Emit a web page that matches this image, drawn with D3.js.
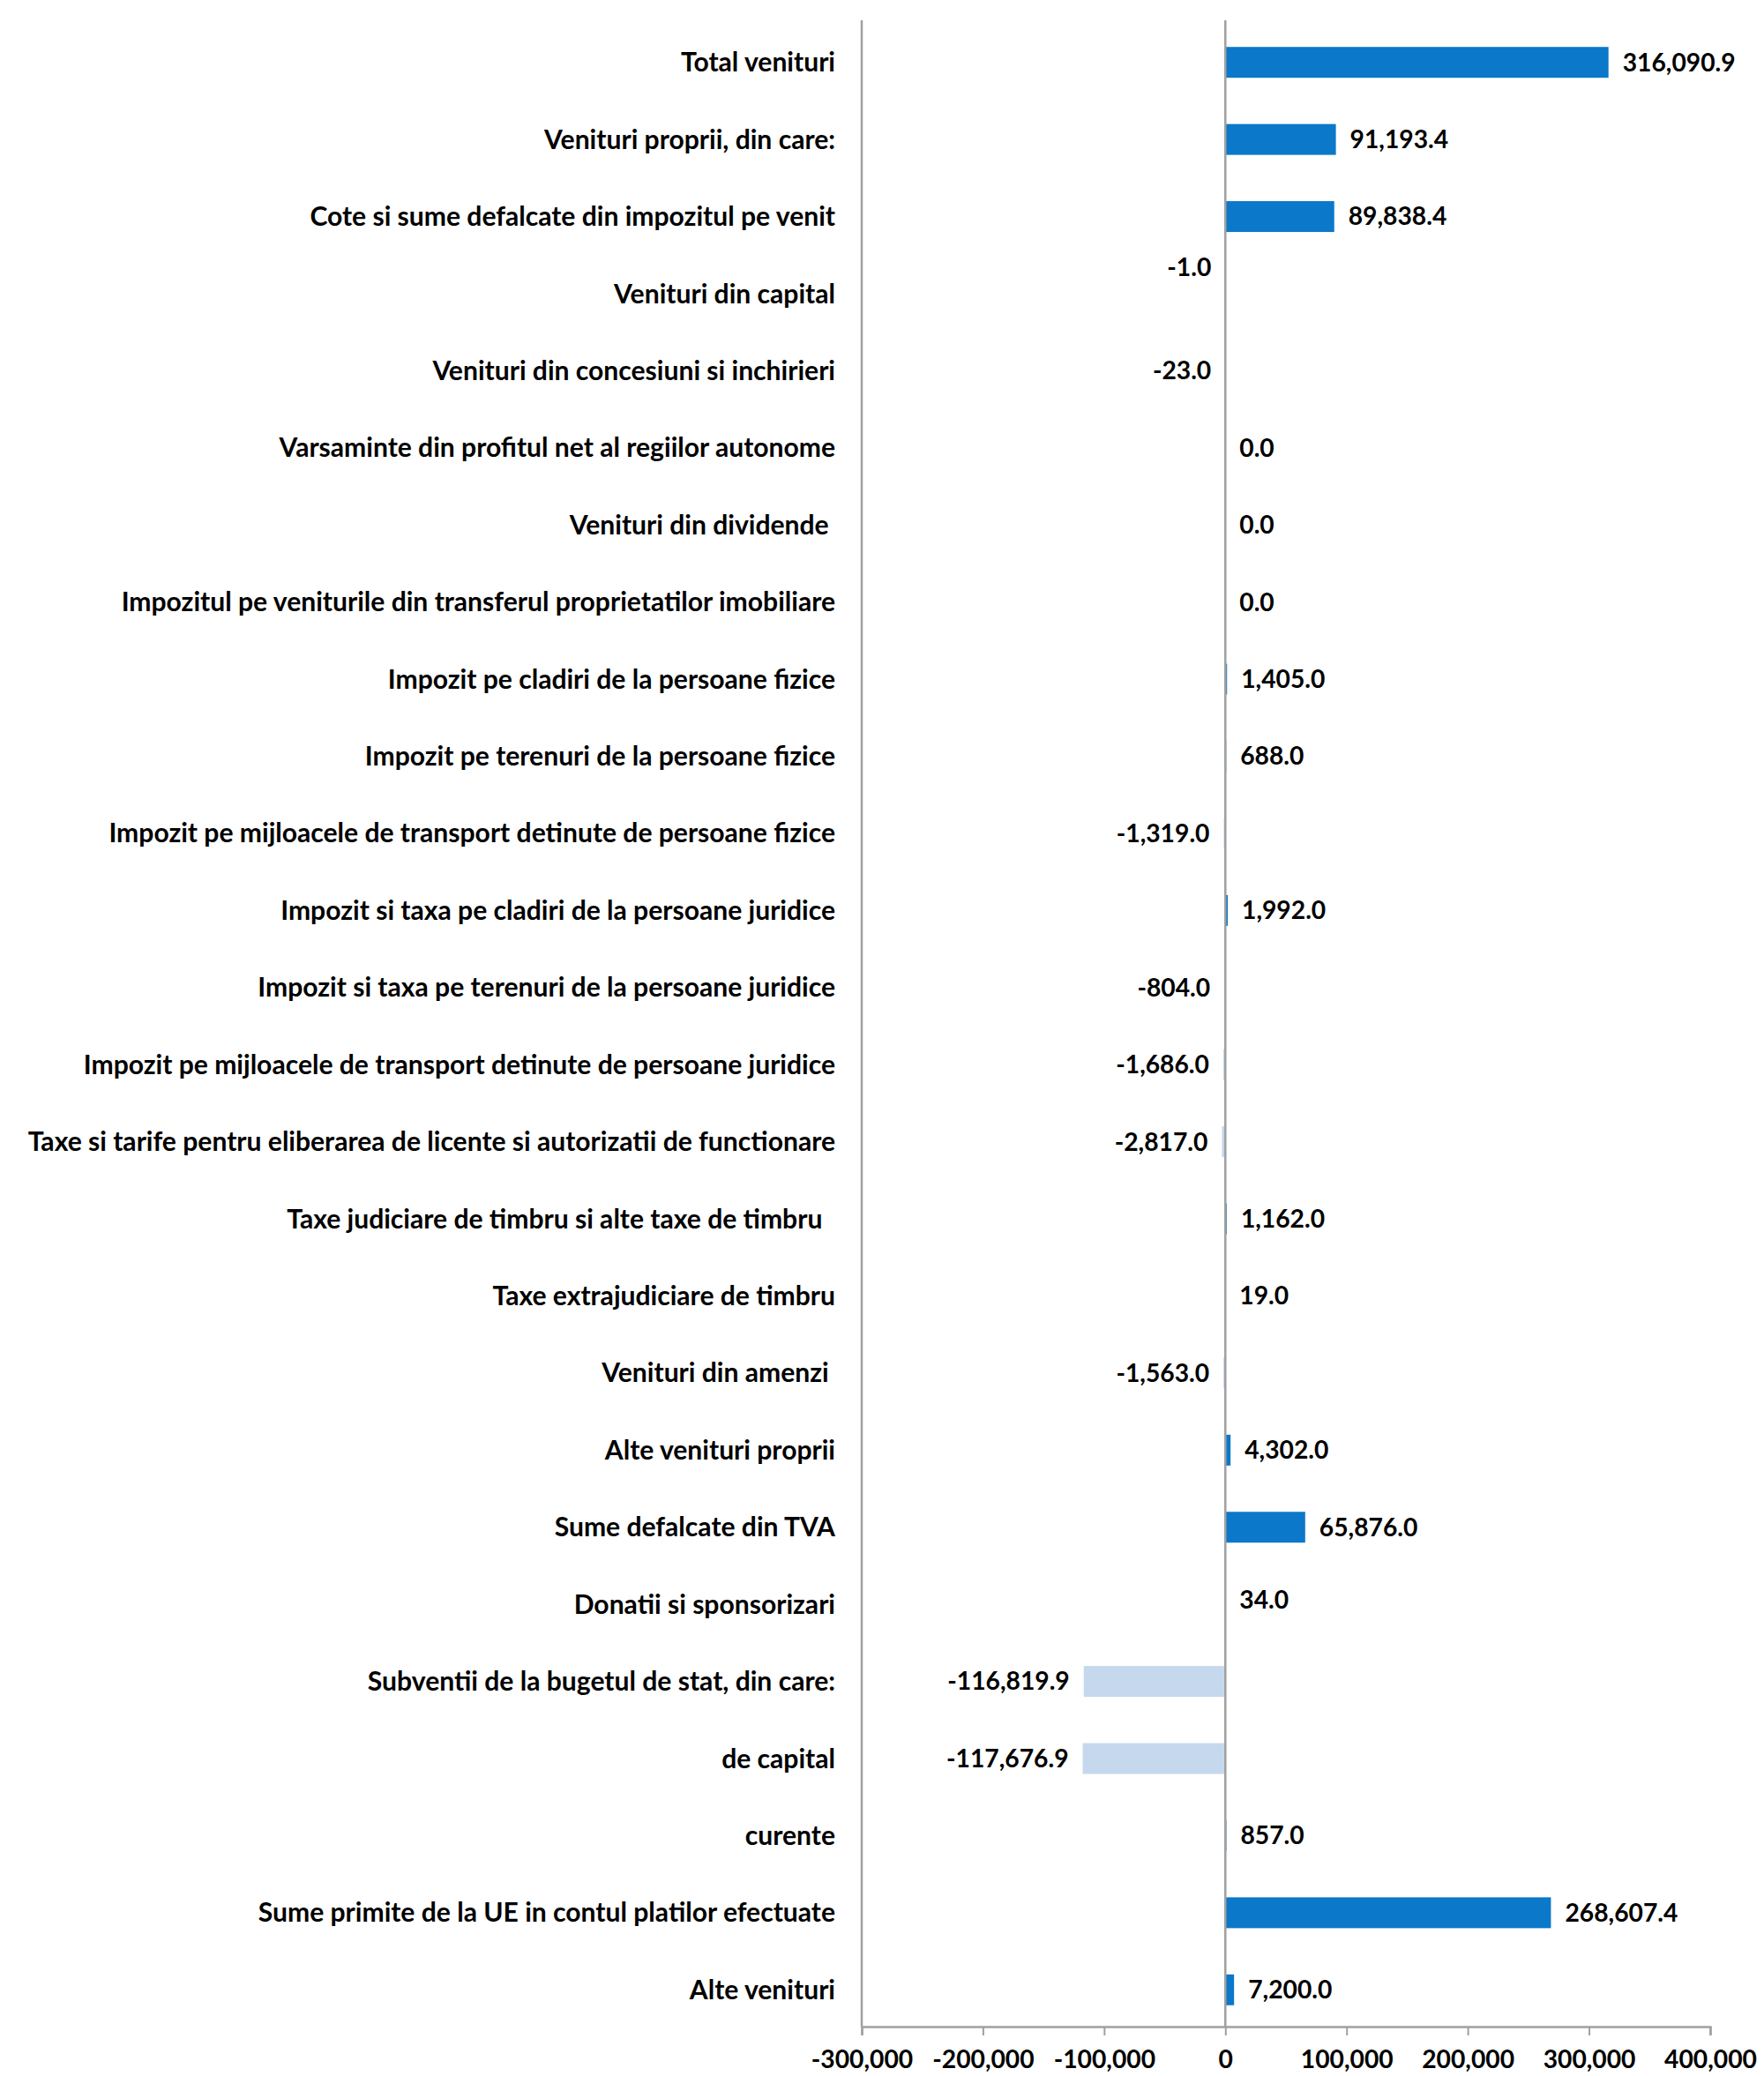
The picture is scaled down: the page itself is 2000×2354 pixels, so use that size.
<!DOCTYPE html>
<html>
<head>
<meta charset="utf-8">
<script src="https://cdn.jsdelivr.net/npm/d3@7"></script>
<style>
  html, body { margin: 0; padding: 0; background: #ffffff; }
  svg { display: block; }
  text { white-space: pre; }
</style>
</head>
<body>
<svg id="chart" width="2000" height="2354"></svg>
<script>
// ---- Data ----
const categories = [
  "Total venituri",
  "Venituri proprii, din care:",
  "Cote si sume defalcate din impozitul pe venit",
  "Venituri din capital",
  "Venituri din concesiuni si inchirieri",
  "Varsaminte din profitul net al regiilor autonome",
  "Venituri din dividende ",
  "Impozitul pe veniturile din transferul proprietatilor imobiliare",
  "Impozit pe cladiri de la persoane fizice",
  "Impozit pe terenuri de la persoane fizice",
  "Impozit pe mijloacele de transport detinute de persoane fizice",
  "Impozit si taxa pe cladiri de la persoane juridice",
  "Impozit si taxa pe terenuri de la persoane juridice",
  "Impozit pe mijloacele de transport detinute de persoane juridice",
  "Taxe si tarife pentru eliberarea de licente si autorizatii de functionare",
  "Taxe judiciare de timbru si alte taxe de timbru  ",
  "Taxe extrajudiciare de timbru",
  "Venituri din amenzi ",
  "Alte venituri proprii",
  "Sume defalcate din TVA",
  "Donatii si sponsorizari",
  "Subventii de la bugetul de stat, din care:",
  "de capital",
  "curente",
  "Sume primite de la UE in contul platilor efectuate",
  "Alte venituri"
];
const values = [
  316090.9, 91193.4, 89838.4, -1.0, -23.0, 0.0, 0.0, 0.0, 1405.0, 688.0,
  -1319.0, 1992.0, -804.0, -1686.0, -2817.0, 1162.0, 19.0, -1563.0, 4302.0, 65876.0,
  34.0, -116819.9, -117676.9, 857.0, 268607.4, 7200.0
];
const xTicks = [-300000, -200000, -100000, 0, 100000, 200000, 300000, 400000];

// ---- Layout ----
const svg = d3.select("#chart");
const plot = { left: 977, right: 1939, top: 23, bottom: 2298 };
const FONT = "Lato, 'Open Sans', sans-serif";
const posColor = "#0B78C9";
const negColor = "#C5D8EE";
const axisColor = "#A0A0A0";

const x = d3.scaleLinear().domain([-300000, 400000]).range([plot.left, plot.right]);
const y = d3.scaleBand().domain(d3.range(categories.length))
  .range([27, 2300]).paddingInner(0.6).paddingOuter(0.3);

function measure(str, size) {
  const t = svg.append("text").attr("font-family", FONT).attr("font-weight", 700)
    .attr("font-size", size).text(str);
  const w = t.node().getComputedTextLength();
  t.remove();
  return w;
}
const catSize = 100 * 916 / measure(categories[14], 100);
const valSize = 100 * 128 / measure("316,090.9", 100);

const locale = d3.formatLocale({ decimal: ".", thousands: ",", grouping: [3], currency: ["", ""], minus: "-" });
const fmt = locale.format(",.1f");
const tickFmt = locale.format(",");

// bars
svg.append("g").selectAll("rect").data(values).join("rect")
  .attr("x", d => x(Math.min(0, d)))
  .attr("width", d => Math.abs(x(d) - x(0)))
  .attr("y", (d, i) => y(i))
  .attr("height", y.bandwidth())
  .attr("fill", d => d < 0 ? negColor : posColor);

// x axis
const xAxis = d3.axisBottom(x).tickValues(xTicks).tickFormat(tickFmt).tickSize(10).tickPadding(17);
const gx = svg.append("g").attr("transform", `translate(0,${plot.bottom})`).call(xAxis);
gx.select(".domain").attr("stroke", axisColor).attr("stroke-width", 2.5);
gx.selectAll(".tick line").attr("stroke", axisColor).attr("stroke-width", 2);
gx.selectAll(".tick text").attr("font-family", FONT).attr("font-weight", 700)
  .attr("font-size", valSize).attr("fill", "#000");

// left axis line and zero line
svg.append("line").attr("x1", plot.left).attr("x2", plot.left)
  .attr("y1", plot.top).attr("y2", plot.bottom)
  .attr("stroke", axisColor).attr("stroke-width", 2.5);
svg.append("line").attr("x1", x(0)).attr("x2", x(0))
  .attr("y1", plot.top).attr("y2", plot.bottom)
  .attr("stroke", axisColor).attr("stroke-width", 2.5);

// category labels
svg.append("g").selectAll("text").data(categories).join("text")
  .attr("x", 947)
  .attr("y", (d, i) => y(i) + y.bandwidth() / 2)
  .attr("dy", "0.35em")
  .attr("text-anchor", "end")
  .attr("font-family", FONT).attr("font-weight", 700)
  .attr("font-size", catSize)
  .attr("fill", "#000")
  .text(d => d);

// value labels
const labelNudge = { 3: -30, 20: -5 };
svg.append("g").selectAll("text").data(values).join("text")
  .attr("x", d => d < 0 ? x(d) - 16 : x(d) + 16)
  .attr("y", (d, i) => y(i) + y.bandwidth() / 2 + (labelNudge[i] || 0))
  .attr("dy", "0.35em")
  .attr("text-anchor", d => d < 0 ? "end" : "start")
  .attr("font-family", FONT).attr("font-weight", 700)
  .attr("font-size", valSize)
  .attr("fill", "#000")
  .text(d => fmt(d));
</script>
</body>
</html>
